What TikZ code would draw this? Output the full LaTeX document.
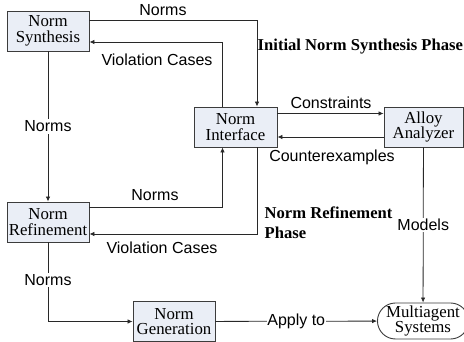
\documentclass[tikz,border=0pt]{standalone}
\usepackage{amsmath,amssymb}
\usepackage{fontspec}
\setmainfont{Liberation Serif}
\setsansfont{Liberation Sans}
\usetikzlibrary{arrows.meta,shapes.misc}

\definecolor{boxfill}{RGB}{234,238,246}
\definecolor{boxline}{RGB}{60,60,60}
\definecolor{flowline}{RGB}{40,40,40}

\begin{document}
\begin{tikzpicture}[x=1pt,y=-1pt,
  box/.style={draw=boxline,fill=boxfill,line width=0.9pt,minimum width=82pt,minimum height=40pt,
    inner sep=0pt,align=center,font=\fontsize{16.8}{15.5}\selectfont},
  sysbox/.style={box,rounded rectangle,fill=white,minimum width=80pt,minimum height=36pt},
  lbl/.style={font=\sffamily\fontsize{16}{18}\selectfont,inner sep=1.5pt},
  cut/.style={lbl,fill=white},
  phase/.style={font=\bfseries\fontsize{16.6}{20}\selectfont,align=left,inner sep=0pt},
  flow/.style={draw=flowline,line width=0.8pt,-{Latex[length=5pt,width=4.5pt]}}]
\useasboundingbox (0,0) rectangle (464,342);

\node[box] (syn) at (48,31) {Norm\\Synthesis};
\node[box,minimum width=83pt] (inter) at (235.5,127) {Norm\\Interface};
\node[box,minimum width=79pt] (alloy) at (423.5,127) {Alloy\\Analyzer};
\node[box] (ref) at (48,222) {Norm\\Refinement};
\node[box] (gen) at (174,321.5) {Norm\\Generation};
\node[sysbox] (mas) at (423,321) {Multiagent\\Systems};

\draw[flow] ([yshift=11pt]syn.east) -| ([xshift=21.5pt]inter.north);
\draw[flow] ([xshift=-13pt]inter.north) |- ([yshift=-11pt]syn.east);
\draw[flow] (syn) -- node[cut] (nsr) {Norms} (ref);
\draw[flow] ([yshift=15pt]ref.east) -| ([xshift=-13pt]inter.south);
\draw[flow] ([xshift=22pt]inter.south) |- ([yshift=-12pt]ref.east);
\draw[flow] ([yshift=13.5pt]inter.east) -- ([yshift=13.5pt]alloy.west);
\draw[flow] ([yshift=-10pt]alloy.west) -- ([yshift=-10pt]inter.east);
\draw[flow] (alloy) -- node[cut] (mdl) {Models} (mas);
\draw[flow] (ref) |- node[cut,pos=0.24] (nrg) {Norms} (gen);
\draw[flow] (gen) -- node[cut,inner sep=0.5pt] (app) {Apply to} (mas);

\node[lbl] (nsi) at (163,10) {Norms};
\node[lbl] (vsi) at (157,60) {Violation Cases};
\node[lbl] (con) at (331,103) {Constraints};
\node[lbl] (cex) at (332,157) {Counterexamples};
\node[lbl] (nri) at (155,195) {Norms};
\node[lbl] (vri) at (162,248) {Violation Cases};

\node[phase,anchor=west] (ph1) at (257.5,47) {Initial Norm Synthesis Phase};
\node[phase,anchor=west] (ph2) at (264.5,223) {Norm Refinement\\Phase};
\end{tikzpicture}
\end{document}
